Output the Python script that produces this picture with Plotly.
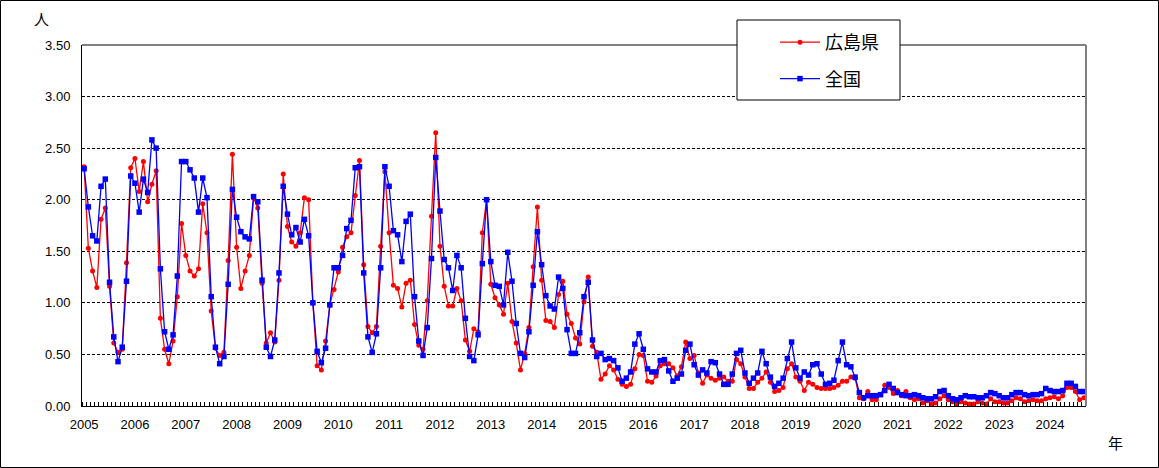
import plotly.graph_objects as go

# Monthly values, Jan 2005 .. Sep 2024
hiroshima = [
    2.32, 1.53, 1.31, 1.15, 1.81, 1.92, 1.16, 0.61, 0.52, 0.55, 1.39, 2.31,
    2.40, 2.08, 2.37, 1.98, 2.15, 2.28, 0.85, 0.55, 0.41, 0.63, 1.06, 1.77,
    1.46, 1.31, 1.26, 1.33, 1.96, 1.68, 0.92, 0.56, 0.49, 0.52, 1.41, 2.44,
    1.54, 1.14, 1.31, 1.46, 2.02, 1.92, 1.19, 0.61, 0.71, 0.62, 1.22, 2.25,
    1.74, 1.59, 1.55, 1.68, 2.02, 2.00, 1.00, 0.39, 0.35, 0.63, 0.98, 1.13,
    1.30, 1.54, 1.64, 1.68, 2.04, 2.38, 1.37, 0.77, 0.71, 0.77, 1.55, 2.27,
    1.68, 1.17, 1.14, 0.96, 1.19, 1.22, 0.79, 0.59, 0.55, 1.02, 1.84, 2.65,
    1.55, 1.16, 0.97, 0.97, 1.14, 1.02, 0.64, 0.53, 0.75, 0.72, 1.68, 2.00,
    1.18, 1.05, 0.98, 0.89, 1.19, 0.82, 0.61, 0.35, 0.51, 0.76, 1.35, 1.93,
    1.22, 0.83, 0.82, 0.76, 1.08, 1.21, 0.89, 0.80, 0.66, 0.60, 1.01, 1.25,
    0.58, 0.52, 0.26, 0.31, 0.39, 0.35, 0.26, 0.21, 0.19, 0.21, 0.36, 0.50,
    0.49, 0.24, 0.23, 0.29, 0.39, 0.41, 0.41, 0.37, 0.29, 0.38, 0.62, 0.46,
    0.49, 0.32, 0.22, 0.30, 0.27, 0.25, 0.27, 0.28, 0.24, 0.24, 0.45, 0.41,
    0.28, 0.17, 0.17, 0.23, 0.27, 0.33, 0.23, 0.14, 0.15, 0.18, 0.36, 0.41,
    0.28, 0.24, 0.15, 0.23, 0.21, 0.18, 0.17, 0.17, 0.17, 0.18, 0.20, 0.24,
    0.24, 0.28, 0.27, 0.08, 0.07, 0.14, 0.06, 0.06, 0.11, 0.20, 0.18, 0.12,
    0.15, 0.10, 0.14, 0.08, 0.06, 0.07, 0.03, 0.05, 0.02, 0.03, 0.07, 0.10,
    0.06, 0.04, 0.02, 0.04, 0.03, 0.02, 0.02, 0.04, 0.03, 0.02, 0.07, 0.04,
    0.04, 0.03, 0.03, 0.05, 0.08, 0.07, 0.04, 0.05, 0.06, 0.05, 0.05, 0.07,
    0.08, 0.09, 0.07, 0.10, 0.18, 0.18, 0.14, 0.06, 0.08,
]

zenkoku = [
    2.30, 1.93, 1.65, 1.60, 2.13, 2.20, 1.20, 0.67, 0.43, 0.57, 1.21, 2.23,
    2.16, 1.88, 2.20, 2.07, 2.58, 2.50, 1.33, 0.72, 0.55, 0.69, 1.26, 2.37,
    2.37, 2.29, 2.21, 1.88, 2.21, 2.02, 1.06, 0.57, 0.41, 0.48, 1.18, 2.10,
    1.83, 1.69, 1.64, 1.62, 2.03, 1.98, 1.22, 0.57, 0.48, 0.64, 1.29, 2.13,
    1.86, 1.66, 1.73, 1.59, 1.81, 1.65, 1.00, 0.53, 0.42, 0.56, 0.98, 1.34,
    1.34, 1.46, 1.72, 1.80, 2.31, 2.32, 1.29, 0.67, 0.52, 0.70, 1.34, 2.32,
    2.13, 1.70, 1.66, 1.40, 1.79, 1.86, 1.06, 0.63, 0.49, 0.76, 1.43, 2.41,
    1.89, 1.42, 1.34, 1.12, 1.46, 1.34, 0.85, 0.48, 0.44, 0.69, 1.38, 2.00,
    1.40, 1.17, 1.16, 0.98, 1.49, 1.21, 0.80, 0.51, 0.47, 0.72, 1.17, 1.69,
    1.37, 1.07, 0.97, 0.94, 1.25, 1.14, 0.74, 0.51, 0.51, 0.71, 1.06, 1.20,
    0.64, 0.48, 0.51, 0.45, 0.46, 0.44, 0.37, 0.24, 0.27, 0.33, 0.60, 0.70,
    0.55, 0.36, 0.33, 0.33, 0.44, 0.45, 0.34, 0.24, 0.27, 0.31, 0.54, 0.60,
    0.40, 0.30, 0.35, 0.32, 0.43, 0.42, 0.31, 0.21, 0.21, 0.31, 0.51, 0.54,
    0.32, 0.22, 0.27, 0.32, 0.53, 0.41, 0.28, 0.19, 0.22, 0.27, 0.46, 0.62,
    0.37, 0.27, 0.33, 0.30, 0.40, 0.41, 0.31, 0.21, 0.22, 0.25, 0.44, 0.62,
    0.40, 0.38, 0.28, 0.13, 0.08, 0.10, 0.10, 0.10, 0.11, 0.15, 0.21, 0.17,
    0.13, 0.11, 0.10, 0.10, 0.11, 0.10, 0.08, 0.07, 0.07, 0.09, 0.14, 0.15,
    0.10, 0.07, 0.06, 0.08, 0.10, 0.09, 0.09, 0.08, 0.08, 0.10, 0.13, 0.12,
    0.10, 0.08, 0.08, 0.11, 0.13, 0.13, 0.11, 0.10, 0.11, 0.11, 0.12, 0.17,
    0.15, 0.14, 0.14, 0.15, 0.22, 0.22, 0.19, 0.14, 0.14,
]

year_labels = [str(y) for y in range(2005, 2025)]
y_ticks = [0.0, 0.5, 1.0, 1.5, 2.0, 2.5, 3.0, 3.5]

n = len(hiroshima)
x = list(range(n))

W, H = 1159, 468
L, R, T, B = 82, 1086, 45, 406
pw, ph = R - L, B - T


def px(xp):
    return (xp - L) / pw


def py(yp):
    return (B - yp) / ph


NUM_FONT = "Liberation Sans, Arial, sans-serif"
JP_FONT = "Noto Sans CJK JP, sans-serif"

fig = go.Figure()
fig.add_trace(go.Scatter(
    x=x, y=hiroshima, name="広島県", mode="lines+markers", legendgroup="a",
    line=dict(color="#FF0000", width=1.3),
    marker=dict(symbol="circle", size=5, color="#FF0000"),
))
fig.add_trace(go.Scatter(
    x=x, y=zenkoku, name="全国", mode="lines+markers", legendgroup="b",
    line=dict(color="#0000FF", width=1.3),
    marker=dict(symbol="square", size=5.5, color="#0000FF"),
))

shapes = [
    # plot area top / right border
    dict(type="line", xref="paper", yref="paper", x0=0, x1=1, y0=1, y1=1,
         line=dict(color="#808080", width=2)),
    dict(type="line", xref="paper", yref="paper", x0=1, x1=1, y0=0, y1=1,
         line=dict(color="#808080", width=2)),
    # outer chart border
    dict(type="rect", xref="paper", yref="paper",
         x0=px(0.5), x1=px(W - 0.5), y0=py(H - 0.5), y1=py(0.5),
         line=dict(color="black", width=1), layer="above"),
    # legend box
    dict(type="rect", xref="paper", yref="paper",
         x0=px(737), x1=px(900), y0=py(100), y1=py(20),
         line=dict(color="black", width=1), fillcolor="white", layer="above"),
]

fig.update_layout(
    width=W, height=H,
    margin=dict(l=L, r=W - R, t=T, b=H - B),
    paper_bgcolor="white", plot_bgcolor="white",
    font=dict(family=NUM_FONT, size=13, color="black"),
    shapes=shapes,
    showlegend=True,
    legend=dict(
        x=px(775), y=py(24), xanchor="left", yanchor="top",
        bgcolor="rgba(0,0,0,0)", borderwidth=0,
        font=dict(family=JP_FONT, size=18, color="black"),
        traceorder="grouped", tracegroupgap=10, itemwidth=40,
    ),
    annotations=[
        dict(text="人", xref="paper", yref="paper", x=px(41), y=py(18),
             xanchor="center", yanchor="middle",
             showarrow=False, font=dict(family=JP_FONT, size=15)),
        dict(text="年", xref="paper", yref="paper", x=px(1115), y=py(443),
             xanchor="center", yanchor="middle",
             showarrow=False, font=dict(family=JP_FONT, size=15)),
    ],
)

fig.update_xaxes(
    range=[-0.5, n - 0.5],
    tickmode="array",
    tickvals=[12 * k for k in range(len(year_labels))],
    ticktext=year_labels,
    ticks="", showgrid=False, zeroline=False,
    showline=True, linecolor="black", linewidth=1,
    ticklabelstandoff=6,
    minor=dict(tickmode="linear", tick0=-0.5, dtick=1, ticks="inside",
               ticklen=4, tickcolor="black", tickwidth=1, showgrid=False),
)
fig.update_yaxes(
    range=[0, 3.5],
    tickmode="array", tickvals=y_ticks,
    tickformat=".2f",
    showgrid=True, gridcolor="black", gridwidth=1, griddash="3px,2px",
    zeroline=False,
    showline=True, linecolor="black", linewidth=1,
    ticks="", ticklabelstandoff=8,
)

fig.write_html("out.html")
